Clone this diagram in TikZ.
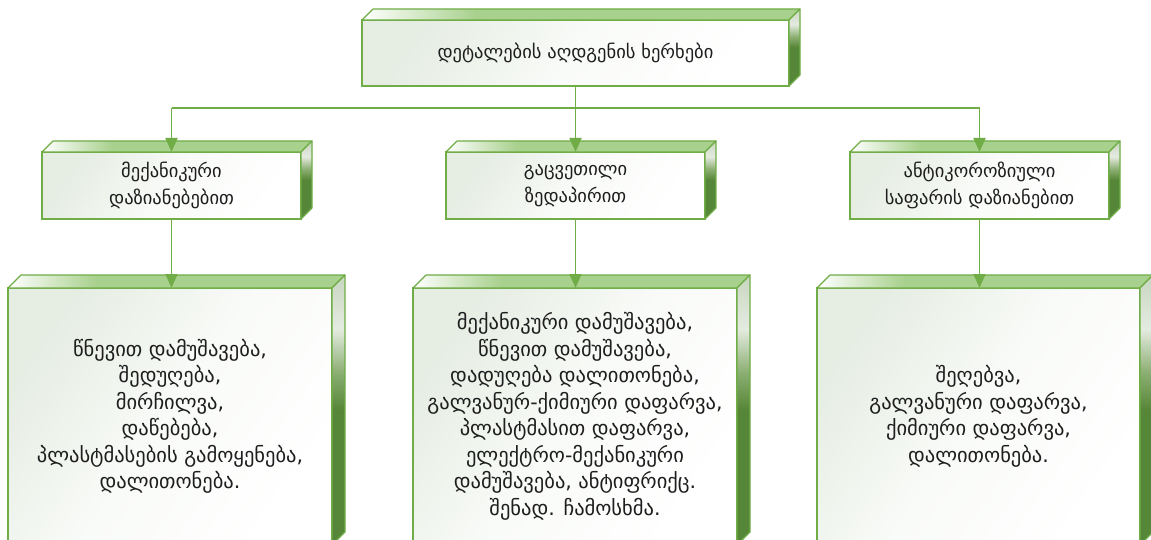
\documentclass[tikz,border=0pt]{standalone}
\usepackage{fontspec}
\setmainfont{DejaVu Sans}
\usetikzlibrary{arrows.meta}
\definecolor{linec}{RGB}{112,173,71}
\definecolor{arrc}{RGB}{112,173,71}
\definecolor{topG}{RGB}{169,209,142}
\definecolor{sideL}{RGB}{200,214,192}
\definecolor{sideM}{RGB}{228,235,224}
\definecolor{sideT}{RGB}{140,175,115}
\definecolor{sideD}{RGB}{86,134,55}
\definecolor{frontL}{RGB}{230,237,227}
\definecolor{frontM}{RGB}{249,251,248}
\definecolor{txt}{RGB}{30,30,30}
\pgfdeclarehorizontalshading{topface}{100bp}{color(0bp)=(white); color(25bp)=(white); color(38bp)=(topG); color(100bp)=(topG)}
\pgfdeclareverticalshading{sideface}{100bp}{color(0bp)=(sideD); color(50bp)=(sideD); color(57bp)=(sideT); color(65bp)=(sideM); color(75bp)=(sideL); color(100bp)=(sideL)}
\newcommand\cubefaces[2]{%
  \shadedraw[shading=topface, facel] (#1.north west) -- ([shift={(#2,-#2)}]#1.north west) -- ([shift={(#2,-#2)}]#1.north east) -- (#1.north east) -- cycle;
  \shadedraw[shading=sideface, facel] (#1.north east) -- ([shift={(#2,-#2)}]#1.north east) -- ([shift={(#2,-#2)}]#1.south east) -- (#1.south east) -- cycle;
}
\tikzset{
  facel/.style={draw=linec, line width=1.1pt, line join=round},
  front/.style={draw=linec, line width=1.1pt, top color=frontL, bottom color=white, middle color=frontM, shading angle=55, inner sep=0pt, outer sep=0pt, align=center, text=txt, font=\fontsize{18.5}{27}\selectfont},
  big/.style={font=\fontsize{20.5}{26.5}\selectfont},
  conn/.style={draw=arrc, line width=1.8pt},
  arr/.style={conn, -{Triangle[length=14pt,width=12pt]}}
}
\begin{document}
\begin{tikzpicture}[x=1pt,y=-1pt]
\fill[white] (0,0) rectangle (1151,540);
\useasboundingbox (0,0) rectangle (1151,540);
% front faces
\node[front, minimum width=427pt, minimum height=66pt] (top) at (575.5,53) {დეტალების აღდგენის ხერხები};
\node[front, minimum width=259pt, minimum height=67pt] (m1) at (171.5,185.5) {მექანიკური\\დაზიანებებით};
\node[front, minimum width=259pt, minimum height=67pt] (m2) at (575.5,185.5) {გაცვეთილი\\ზედაპირით};
\node[front, minimum width=259pt, minimum height=67pt] (m3) at (979.5,185.5) {ანტიკოროზიული\\საფარის დაზიანებით};
\node[front, big, minimum width=324pt, minimum height=257pt] (b1) at (170,416.5) {წნევით დამუშავება,\\შედუღება,\\მირჩილვა,\\დაწებება,\\პლასტმასების გამოყენება,\\დალითონება.};
\node[front, big, minimum width=324pt, minimum height=257pt] (b2) at (575,416.5) {მექანიკური დამუშავება,\\წნევით დამუშავება,\\დადუღება დალითონება,\\გალვანურ-ქიმიური დაფარვა,\\პლასტმასით დაფარვა,\\ელექტრო-მექანიკური\\დამუშავება, ანტიფრიქც.\\შენად. ჩამოსხმა.};
\node[front, big, minimum width=323pt, minimum height=257pt] (b3) at (978.5,416.5) {შეღებვა,\\გალვანური დაფარვა,\\ქიმიური დაფარვა,\\დალითონება.};
% 3D faces
\cubefaces{top}{11}
\cubefaces{m1}{11}
\cubefaces{m2}{11}
\cubefaces{m3}{11}
\cubefaces{b1}{13}
\cubefaces{b2}{13}
\cubefaces{b3}{13}
% connectors
\coordinate (bus) at (575.5,108);
\draw[conn] (top.south) -- (bus);
\draw[conn] (m1.north |- bus) -- (m3.north |- bus);
\draw[arr] (m1.north |- bus) -- (m1.north);
\draw[arr] (bus) -- (m2.north);
\draw[arr] (m3.north |- bus) -- (m3.north);
\draw[arr] (m1.south) -- (m1.south |- b1.north);
\draw[arr] (m2.south) -- (m2.south |- b2.north);
\draw[arr] (m3.south) -- (m3.south |- b3.north);
\end{tikzpicture}
\end{document}
